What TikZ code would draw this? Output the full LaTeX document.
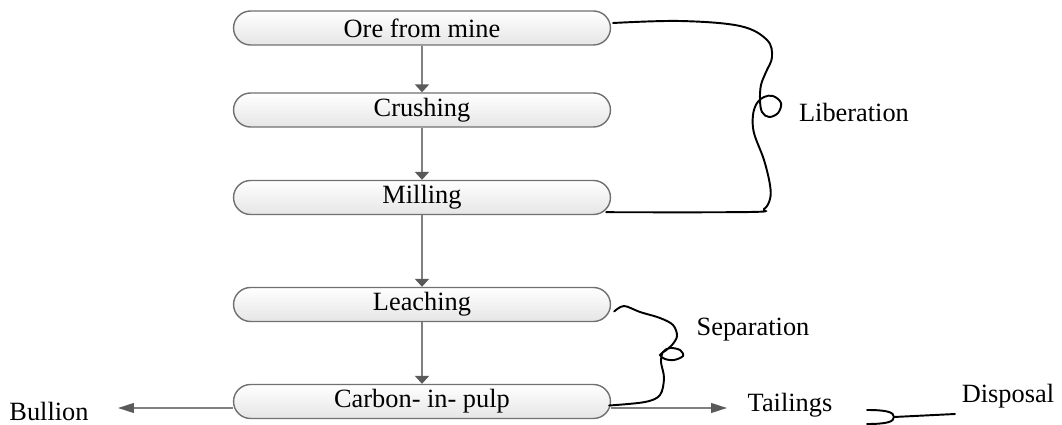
\documentclass[tikz,border=0pt]{standalone}
\usepackage{fontspec}
\setmainfont{Liberation Serif}
\usetikzlibrary{arrows.meta,calc}
\definecolor{boxline}{HTML}{707070}
\definecolor{flowgray}{HTML}{808080}
\definecolor{tipgray}{HTML}{5A5A5A}

\begin{document}
\begin{tikzpicture}[x=0.02cm, y=-0.02cm,
    stage/.style={draw=boxline, line width=0.8pt, rounded corners=0.34cm, top color=white, bottom color=gray!20, minimum width=7.54cm, minimum height=0.68cm, inner sep=0pt, font=\fontsize{15}{18}\selectfont},
    flow/.style={flowgray, line width=0.9pt, -{Triangle[width=8pt,length=4.5pt,color=tipgray]}},
    sideflow/.style={flowgray, line width=1pt, -{Triangle[width=5.5pt,length=9pt,color=tipgray]}},
    lbl/.style={font=\fontsize{15}{18}\selectfont},
    hand/.style={black, line width=1.1pt, line cap=round}]
  \useasboundingbox (0,0) rectangle (1062,425);
  % process stages
  \node[stage] (ore) at (422,28) {Ore from mine};
  \node[stage] (crush) at (422,110) {Crushing};
  \node[stage] (mill) at (422,197.5) {Milling};
  \node[stage] (leach) at (422,304.5) {Leaching};
  \node[stage] (cip) at (422,401.5) {Carbon- in- pulp};
  \draw[flow] (ore) -- (crush);
  \draw[flow] (crush) -- (mill);
  \draw[flow] (mill) -- (leach);
  \draw[flow] (leach) -- (cip);
  % products
  \node[lbl] (bullion) at (49,411) {Bullion};
  \node[lbl] (tailings) at (790,405) {Tailings};
  \node[lbl] (disposal) at (1008,396) {Disposal};
  \coordinate (bulend) at (118,408);
  \coordinate (tailend) at (727,408);
  \draw[sideflow] ($(cip.west)+(0,6.5)$) -- (bulend);
  \draw[sideflow] ($(cip.east)+(0,6.5)$) -- (tailend);
  % brackets
  \node[lbl] (liberation) at (854,112) {Liberation};
  \node[lbl] (separation) at (753,330) {Separation};
  \draw[hand] plot[smooth, tension=0.6] coordinates {($(ore.east)+(2,-5)$) (680,21) (740,26) (767,40) (772,57) (766,72) (761,85) (760,100) (762,112) (769,117) (778,113) (781,103) (773,96) (764,97) (757,103) (753,115) (754,133) (764,160) (770,185) (770,199) (764,209) (750,212) ($(mill.south east)+(-5,-3)$)};
  \draw[hand] plot[smooth, tension=0.55] coordinates {($(leach.east)+(3,7)$) (624,306) (640,312) (660,318) (673,325) (677,336) (672,345) (665,351) (660,355) (665,359) (674,360) (683,356) (680,350) (670,348) (663,352) (661,362) (664,378) (660,395) (645,402) ($(cip.east)+(-2,4)$)};
  \coordinate (dispjoin) at (894,417);
  \draw[hand] (867,410) .. controls (886,410) and (894,412) .. (dispjoin) .. controls (894,422) and (886,424) .. (867,424);
  \draw[hand] (dispjoin) -- (955,414);
\end{tikzpicture}
\end{document}
